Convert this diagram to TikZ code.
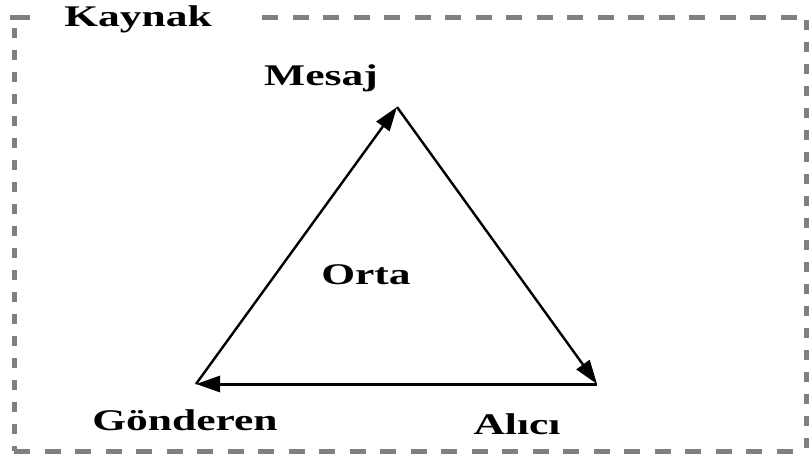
\documentclass[tikz,border=0pt]{standalone}
\usepackage{fontspec}
\setmainfont{Liberation Serif}
\usetikzlibrary{arrows.meta}
\newcommand\stretchtxt[1]{\scalebox{1.45}[1]{#1}}
\begin{document}
\begin{tikzpicture}[x=1pt,y=-1pt,
  lbl/.style={font=\fontsize{30}{30}\selectfont\bfseries, anchor=base, inner sep=0pt},
  frameline/.style={draw=gray, line width=5pt},
  hdash/.style={dash pattern=on 16pt off 14.5pt},
  vdash/.style={dash pattern=on 10pt off 12pt},
  arrowedge/.style={line width=2.4pt, -{Triangle[length=24pt,width=16pt]}}
]
\useasboundingbox (0,0) rectangle (809,461);
% frame
\coordinate (tl) at (14,17);
\coordinate (tr) at (806,17);
\coordinate (br) at (806,451);
\coordinate (bl) at (14,451);
\coordinate (tla) at (30,17);
\coordinate (tlb) at (262,17);
\draw[frameline] (10,17) -- (tla);
\draw[frameline,hdash] (tlb) -- (tr);
\draw[frameline,vdash] (14,28) -- (bl);
\draw[frameline,vdash] (806,20) -- (br);
\draw[frameline,hdash] (14,451) -- (br);
\node[lbl] (kaynak) at (138,26) {\stretchtxt{Kaynak}};
% triangle
\coordinate (A) at (397,107);
\coordinate (B) at (196,384);
\coordinate (C) at (597,384);
\draw[arrowedge] (B) -- (A);
\draw[arrowedge] (A) -- (C);
\draw[arrowedge,line width=3pt] (C) -- (B);
% labels
\node[lbl] (mesaj) at (321,85) {\stretchtxt{Mesaj}};
\node[lbl] (orta) at (366,284) {\stretchtxt{Orta}};
\node[lbl] (gonderen) at (185,430) {\stretchtxt{Gönderen}};
\node[lbl] (alici) at (517,434) {\stretchtxt{Alıcı}};
\end{tikzpicture}
\end{document}
